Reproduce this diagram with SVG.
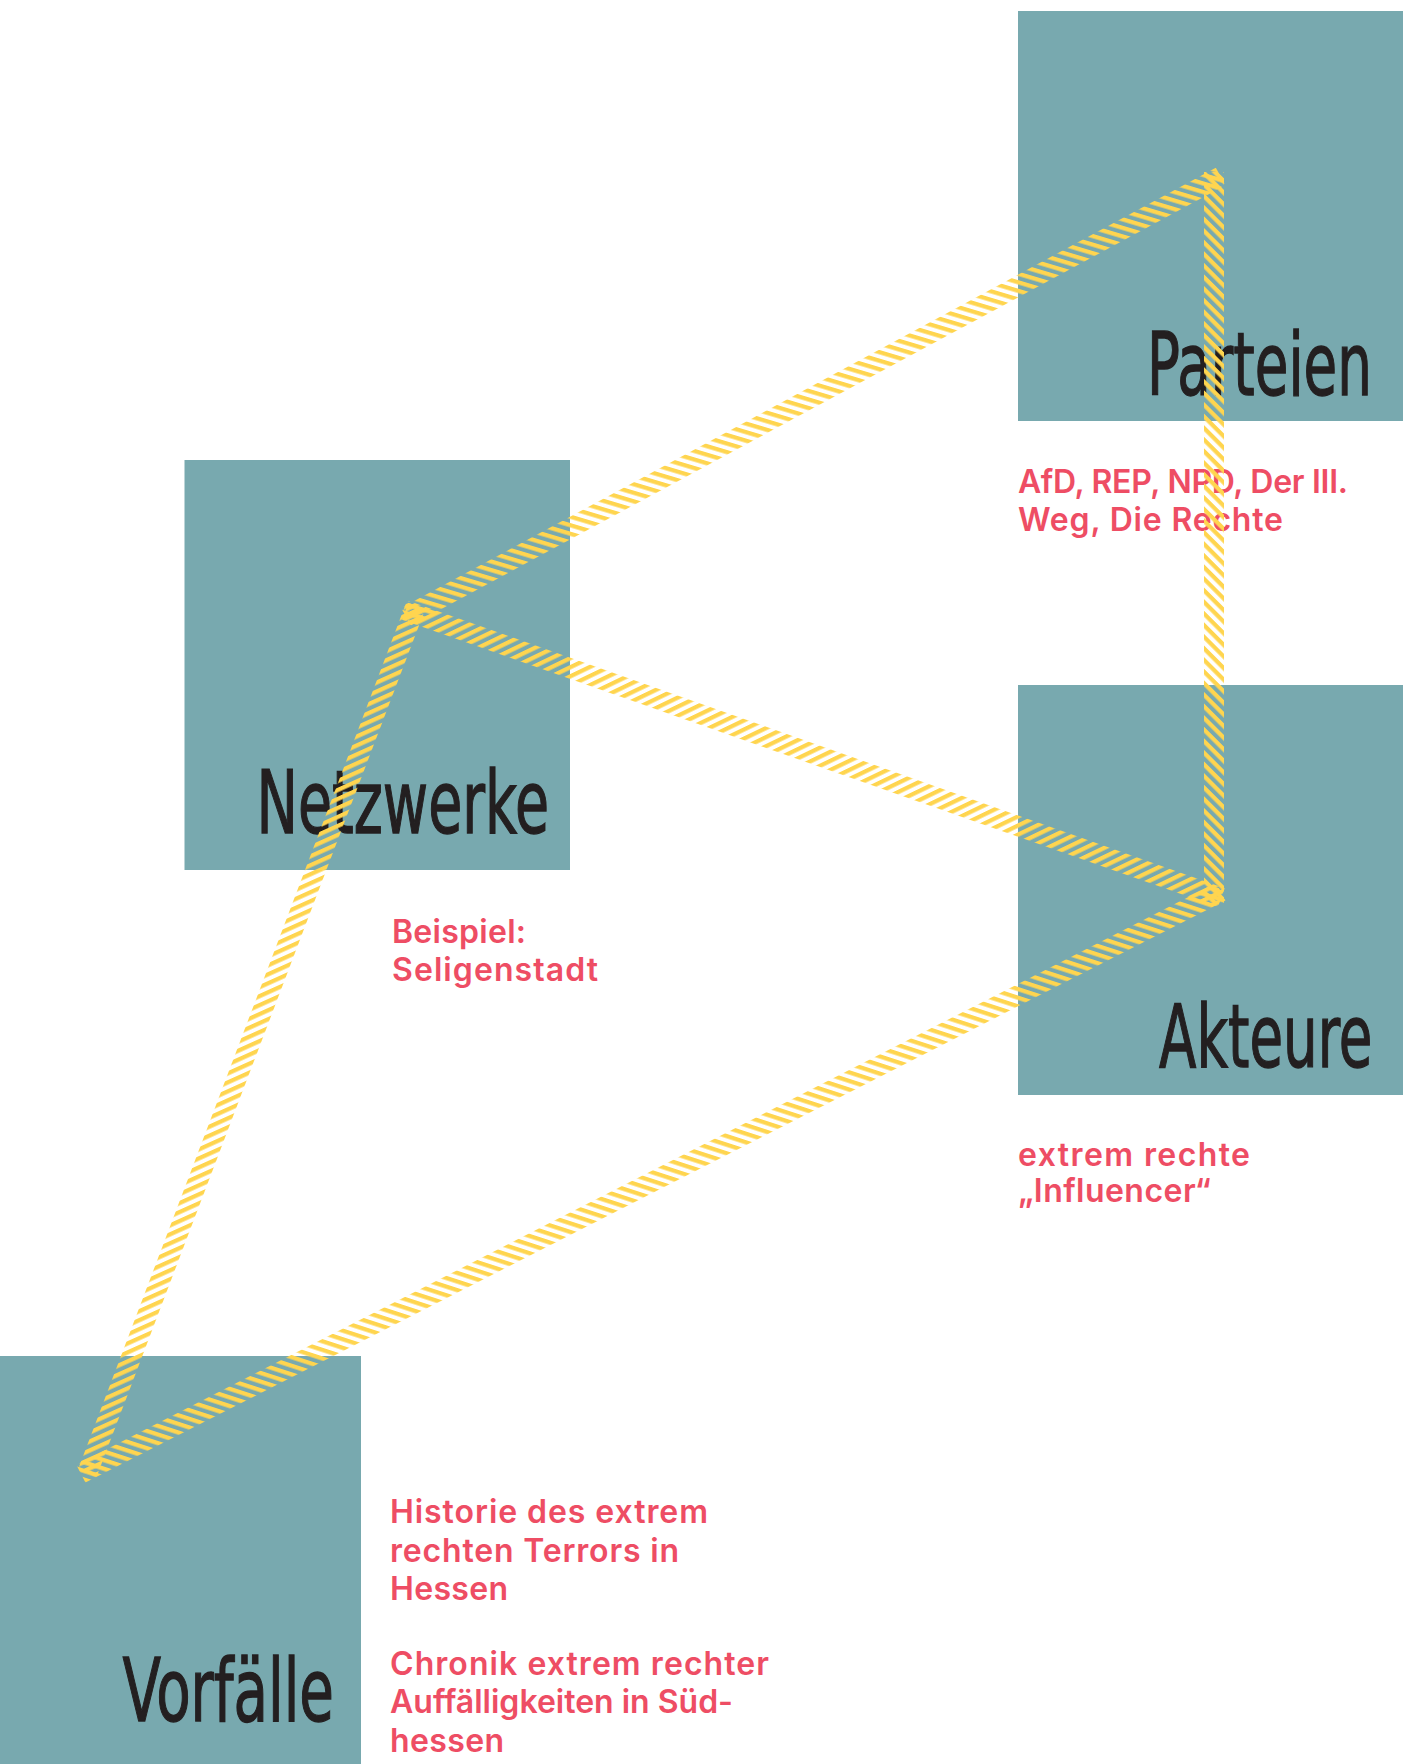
<svg xmlns="http://www.w3.org/2000/svg" width="1405" height="1764" viewBox="0 0 1405 1764">
<style>
.box{fill:#78A9AF}
.title{font-family:"Liberation Sans Narrow","DejaVu Sans Condensed","Liberation Sans",sans-serif;font-size:88px;fill:#231F20;stroke:#231F20;stroke-width:1.3}
.note{font-family:Inter,"Noto Sans","Liberation Sans",sans-serif;font-size:32px;font-weight:600;fill:#EE4D64}
</style>
<defs>
<pattern id="hatchA" patternUnits="userSpaceOnUse" width="40" height="8.2" patternTransform="rotate(45)"><rect width="40" height="4.2" fill="#FFD54F"/></pattern>
<pattern id="hatchB" patternUnits="userSpaceOnUse" width="40" height="8.2" patternTransform="rotate(-45)"><rect width="40" height="4.2" fill="#FFD54F"/></pattern>
</defs>
<rect width="1405" height="1764" fill="#ffffff"/>
<g id="parteien">
<rect class="box" x="1018" y="11" width="385" height="410"/>
<text class="title" transform="translate(1147 395) scale(0.7 1)" x="0" y="0" textLength="321.4" lengthAdjust="spacingAndGlyphs">Parteien</text>
<text class="note" x="1018" y="493" textLength="330" lengthAdjust="spacing">AfD, REP, NPD, Der III.</text>
<text class="note" x="1018" y="531" textLength="265" lengthAdjust="spacing">Weg, Die Rechte</text>
</g>
<g id="netzwerke">
<rect class="box" x="184.5" y="460" width="385.5" height="410"/>
<text class="title" transform="translate(256.5 833) scale(0.7 1)" x="0" y="0" textLength="417.9" lengthAdjust="spacingAndGlyphs">Netzwerke</text>
<text class="note" x="392" y="943" textLength="134" lengthAdjust="spacing">Beispiel:</text>
<text class="note" x="392" y="981" textLength="206" lengthAdjust="spacing">Seligenstadt</text>
</g>
<g id="akteure">
<rect class="box" x="1018" y="685" width="385" height="410"/>
<text class="title" transform="translate(1159 1067) scale(0.7 1)" x="0" y="0" textLength="305" lengthAdjust="spacingAndGlyphs">Akteure</text>
<text class="note" x="1018" y="1166" textLength="232" lengthAdjust="spacing">extrem rechte</text>
<text class="note" x="1018" y="1202" textLength="193" lengthAdjust="spacing">„Influencer“</text>
</g>
<g id="vorfaelle">
<rect class="box" x="0" y="1356" width="361" height="408"/>
<text class="title" transform="translate(122.5 1721) scale(0.7 1)" x="0" y="0" textLength="302.1" lengthAdjust="spacingAndGlyphs">Vorfälle</text>
<text class="note" x="390" y="1523" textLength="318" lengthAdjust="spacing">Historie des extrem</text>
<text class="note" x="390" y="1562" textLength="289" lengthAdjust="spacing">rechten Terrors in</text>
<text class="note" x="390" y="1600" textLength="118" lengthAdjust="spacing">Hessen</text>
<text class="note" x="390" y="1675" textLength="379" lengthAdjust="spacing">Chronik extrem rechter</text>
<text class="note" x="390" y="1713" textLength="343" lengthAdjust="spacing">Auffälligkeiten in Süd-</text>
<text class="note" x="390" y="1752" textLength="114" lengthAdjust="spacing">hessen</text>
</g>
<g id="connectors">
<rect x="-8" y="-10" width="928" height="20" fill="url(#hatchA)" transform="translate(90 1466) rotate(-69.26)"/>
<rect x="-8" y="-10" width="926" height="20" fill="url(#hatchA)" transform="translate(413 613) rotate(-28.39)"/>
<rect x="-8" y="-10" width="731" height="20" fill="url(#hatchB)" transform="translate(1214 180) rotate(90)"/>
<rect x="-8" y="-10" width="865" height="20" fill="url(#hatchB)" transform="translate(413 613) rotate(19.40)"/>
<rect x="-8" y="-10" width="1280" height="20" fill="url(#hatchA)" transform="translate(88 1470) rotate(-27.05)"/>
</g>
</svg>
